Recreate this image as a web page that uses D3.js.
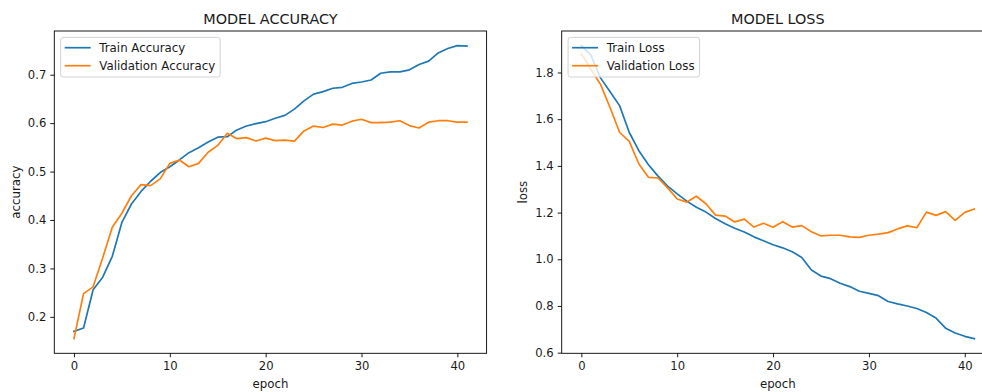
<!DOCTYPE html>
<html>
<head>
<meta charset="utf-8">
<script src="https://cdn.jsdelivr.net/npm/d3@7"></script>
<style>
    body { margin: 0; background: #fff; }
    svg { display: block; font-family: "DejaVu Sans", sans-serif; }
</style>
</head>
<body>
<svg id="chart" width="982" height="392"></svg>
<script>
// epochs 0..41
var epochs = d3.range(0, 42);

var trainAccuracy = [0.170, 0.177, 0.256, 0.282, 0.325, 0.395, 0.433, 0.459, 0.480, 0.498,
    0.510, 0.524, 0.539, 0.549, 0.561, 0.571, 0.572, 0.586, 0.594, 0.599,
    0.603, 0.610, 0.616, 0.629, 0.646, 0.660, 0.665, 0.672, 0.674, 0.682,
    0.685, 0.689, 0.703, 0.706, 0.706, 0.710, 0.721, 0.728, 0.745, 0.754,
    0.760, 0.759];

var valAccuracy = [0.155, 0.248, 0.262, 0.322, 0.385, 0.414, 0.450, 0.473, 0.471, 0.485,
    0.517, 0.524, 0.510, 0.517, 0.540, 0.554, 0.579, 0.568, 0.570, 0.563,
    0.569, 0.564, 0.565, 0.563, 0.584, 0.594, 0.591, 0.598, 0.596, 0.604,
    0.608, 0.601, 0.601, 0.602, 0.605, 0.595, 0.590, 0.602, 0.605, 0.605,
    0.602, 0.602];

var trainLoss = [1.915, 1.874, 1.777, 1.718, 1.657, 1.543, 1.465, 1.405, 1.356, 1.313,
    1.280, 1.249, 1.223, 1.202, 1.175, 1.152, 1.133, 1.117, 1.096, 1.079,
    1.062, 1.049, 1.032, 1.008, 0.954, 0.928, 0.917, 0.897, 0.883, 0.863,
    0.854, 0.844, 0.819, 0.809, 0.800, 0.789, 0.772, 0.748, 0.705, 0.684,
    0.670, 0.660];

var valLoss = [1.881, 1.813, 1.749, 1.649, 1.543, 1.505, 1.408, 1.351, 1.348, 1.306,
    1.258, 1.245, 1.270, 1.238, 1.189, 1.185, 1.160, 1.172, 1.138, 1.154,
    1.137, 1.161, 1.138, 1.144, 1.118, 1.100, 1.103, 1.103, 1.096, 1.094,
    1.103, 1.108, 1.114, 1.130, 1.143, 1.135, 1.202, 1.188, 1.204, 1.167,
    1.201, 1.215];

var xTicks = [0, 10, 20, 30, 40];
var accTicks = [0.2, 0.3, 0.4, 0.5, 0.6, 0.7];
var lossTicks = [0.6, 0.8, 1.0, 1.2, 1.4, 1.6, 1.8];

var blue = "#1f77b4";
var orange = "#ff7f0e";
var textColor = "#1a1a1a";

var svg = d3.select("#chart");

function drawPanel(opts) {
    var left = opts.left, top = 31, width = 432.3, height = 322.3;

    var g = svg.append("g");

    // matplotlib style 5% margins
    var xScale = d3.scaleLinear()
        .domain([-2.05, 43.05])
        .range([left, left + width]);

    var allVals = opts.series[0].values.concat(opts.series[1].values);
    var lo = d3.min(allVals), hi = d3.max(allVals);
    var pad = (hi - lo) * 0.05;
    var yScale = d3.scaleLinear()
        .domain([lo - pad, hi + pad])
        .range([top + height, top]);

    var line = d3.line()
        .x(function(d, i){ return xScale(epochs[i]); })
        .y(function(d){ return yScale(d); });

    opts.series.forEach(function(s) {
        g.append("path")
            .datum(s.values)
            .attr("fill", "none")
            .attr("stroke", s.color)
            .attr("stroke-width", 1.7)
            .attr("stroke-linejoin", "round")
            .attr("stroke-linecap", "square")
            .attr("d", line);
    });

    // frame
    g.append("rect")
        .attr("x", left)
        .attr("y", top)
        .attr("width", width)
        .attr("height", height)
        .attr("fill", "none")
        .attr("stroke", "#000")
        .attr("stroke-width", 0.9);

    //Axis
    var xAxis = d3.axisBottom(xScale)
        .tickValues(xTicks)
        .tickSize(4)
        .tickPadding(4)
        .tickFormat(d3.format("d"));

    var yAxis = d3.axisLeft(yScale)
        .tickValues(opts.yTicks)
        .tickSize(4)
        .tickPadding(4)
        .tickFormat(d3.format(".1f"));

    var gx = g.append("g")
        .attr("transform", "translate(0," + (top + height) + ")")
        .call(xAxis);
    var gy = g.append("g")
        .attr("transform", "translate(" + left + ",0)")
        .call(yAxis);

    [gx, gy].forEach(function(a) {
        a.select(".domain").remove();
        a.selectAll("line").attr("stroke", "#000").attr("stroke-width", 0.9);
        a.selectAll("text")
            .attr("fill", textColor)
            .style("font-size", "11.6px")
            .style("font-family", "DejaVu Sans, sans-serif");
    });

    // title and labels
    g.append("text")
        .attr("x", left + width / 2)
        .attr("y", 24)
        .attr("text-anchor", "middle")
        .attr("fill", textColor)
        .style("font-size", "14.4px")
        .text(opts.title);

    g.append("text")
        .attr("x", left + width / 2)
        .attr("y", 387.5)
        .attr("text-anchor", "middle")
        .attr("fill", textColor)
        .style("font-size", "11.8px")
        .text("epoch");

    g.append("text")
        .attr("transform", "translate(" + (left - 34.5) + "," + (top + height / 2) + ") rotate(-90)")
        .attr("text-anchor", "middle")
        .attr("fill", textColor)
        .style("font-size", "11.8px")
        .text(opts.ylabel);

    // legend
    var lx = left + 6.4, ly = top + 6.4;
    var legend = g.append("g");
    var box = legend.append("rect")
        .attr("x", lx)
        .attr("y", ly)
        .attr("height", 39.6)
        .attr("rx", 2.5)
        .attr("fill", "#fff")
        .attr("fill-opacity", 0.8)
        .attr("stroke", "#ccc")
        .attr("stroke-width", 0.9);

    var maxW = 0;
    opts.series.forEach(function(s, i) {
        var yy = ly + 10.3 + i * 18;
        legend.append("line")
            .attr("x1", lx + 4)
            .attr("x2", lx + 30)
            .attr("y1", yy)
            .attr("y2", yy)
            .attr("stroke", s.color)
            .attr("stroke-width", 1.7);
        var t = legend.append("text")
            .attr("x", lx + 38.6)
            .attr("y", yy + 4.2)
            .attr("fill", textColor)
            .style("font-size", "11.8px")
            .text(s.name);
        maxW = Math.max(maxW, t.node().getComputedTextLength());
    });
    box.attr("width", 38.6 + maxW + 5);
}

drawPanel({
    left: 54.3,
    title: "MODEL ACCURACY",
    ylabel: "accuracy",
    yTicks: accTicks,
    series: [
        { name: "Train Accuracy", values: trainAccuracy, color: blue },
        { name: "Validation Accuracy", values: valAccuracy, color: orange }
    ]
});

drawPanel({
    left: 561.7,
    title: "MODEL LOSS",
    ylabel: "loss",
    yTicks: lossTicks,
    series: [
        { name: "Train Loss", values: trainLoss, color: blue },
        { name: "Validation Loss", values: valLoss, color: orange }
    ]
});
</script>
</body>
</html>
